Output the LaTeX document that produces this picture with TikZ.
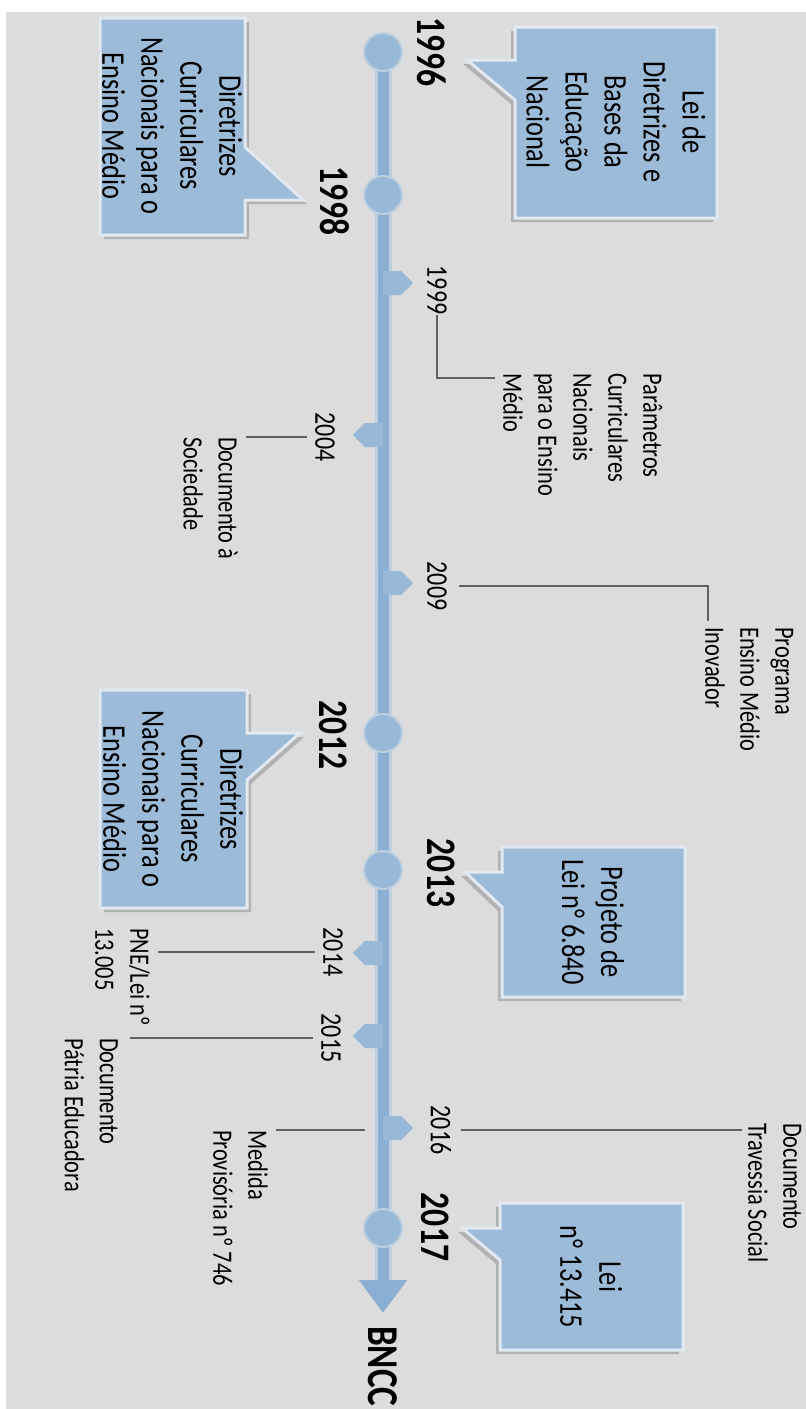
\documentclass[tikz,border=0pt]{standalone}
\usepackage{fontspec}
\setmainfont{Carlito}[FakeStretch=0.8]
\usetikzlibrary{arrows.meta,shapes.symbols,calc}

\definecolor{bgc}{RGB}{220,220,220}
\definecolor{barc}{RGB}{138,175,211}
\definecolor{barl}{RGB}{190,207,224}
\definecolor{dotc}{RGB}{152,184,215}
\definecolor{boxc}{RGB}{156,187,217}
\definecolor{boxl}{RGB}{226,233,240}
\definecolor{linec}{RGB}{95,95,95}

\begin{document}
\begin{tikzpicture}[
    x=1pt, y=-1pt,
    bigyear/.style={rotate=-90, inner sep=0pt, font=\fontsize{42}{42}\selectfont\bfseries},
    smallyear/.style={rotate=-90, inner sep=0pt, font=\fontsize{30}{30}\selectfont},
    boxtext/.style={rotate=-90, inner sep=0pt, align=center, font=\fontsize{33}{39}\selectfont},
    notetext/.style={rotate=-90, inner sep=0pt, align=left, font=\fontsize{28}{35}\selectfont},
    yeardot/.style={circle, fill=dotc, draw=barl, line width=2pt, minimum size=38pt, inner sep=0pt},
    tickmark/.style={signal, fill=dotc, minimum width=30pt, minimum height=24pt, inner sep=0pt},
    bubble/.style={fill=boxc, draw=boxl, line width=3pt,
        preaction={fill=black!30, transform canvas={xshift=#1, yshift=-4pt}}},
    bubble/.default=-4pt,
    leader/.style={draw=linec, line width=1.3pt}
]

    % page
    \useasboundingbox (0,0) rectangle (806,1409);
    \fill[white] (0,0) rectangle (806,1409);
    \fill[bgc] (6,12) rectangle (806,1409);

    % Timeline
    \node[rotate=-90, inner sep=0pt, anchor=west, font=\fontsize{44}{44}\selectfont\bfseries] (bncc) at (383,1326) {BNCC};
    \coordinate (start) at (383,52);
    \draw[barl, line width=17pt] (start) -- ([yshift=46pt]bncc.west);
    \draw[barc, line width=11pt, -{Triangle[width=46pt, length=33pt]}] (start) -- ([yshift=13pt]bncc.west);

    \node[tickmark, signal to=east, anchor=west] (m1999) at (383,283) {};
    \node[tickmark, signal to=west, anchor=east] (m2004) at (383,435) {};
    \node[tickmark, signal to=east, anchor=west] (m2009) at (383,583) {};
    \node[tickmark, signal to=west, anchor=east] (m2014) at (383,953) {};
    \node[tickmark, signal to=west, anchor=east] (m2015) at (383,1036) {};
    \node[tickmark, signal to=east, anchor=west] (m2016) at (383,1128) {};

    \node[yeardot] (c1996) at (383,52) {};
    \node[yeardot] (c1998) at (383,195) {};
    \node[yeardot] (c2012) at (383,733) {};
    \node[yeardot] (c2013) at (383,870) {};
    \node[yeardot] (c2017) at (383,1228) {};

    % Callouts
    \path[bubble] (515,27) -- (717,27) -- (717,218) -- (515,218) -- (515,100) -- (467,60) -- (515,60) -- cycle;
    \path[bubble=4pt] (100,18) -- (245,18) -- (245,147) -- (303,200) -- (245,200) -- (245,235) -- (100,235) -- cycle;
    \path[bubble=4pt] (100,690) -- (247,690) -- (247,733) -- (300,733) -- (247,780) -- (247,908) -- (100,908) -- cycle;
    \path[bubble] (502,847) -- (685,847) -- (685,997) -- (502,997) -- (502,907) -- (465,872) -- (502,872) -- cycle;
    \path[bubble] (500,1203) -- (683,1203) -- (683,1350) -- (500,1350) -- (500,1260) -- (462,1228) -- (500,1228) -- cycle;

    \node[boxtext] (t1996) at (616,122) {Lei de\\Diretrizes e\\Bases da\\Educação\\Nacional};
    \node[boxtext] (t1998) at (172,126) {Diretrizes\\Curriculares\\Nacionais para o\\Ensino Médio};
    \node[boxtext] (t2012) at (173,799) {Diretrizes\\Curriculares\\Nacionais para o\\Ensino Médio};
    \node[boxtext] (t2013) at (593,922) {Projeto de\\Lei n° 6.840};
    \node[boxtext] (t2017) at (591,1277) {Lei\\n° 13.415};

    % Years
    \node[bigyear] (y1996) at (432,52) {1996};
    \node[bigyear] (y1998) at (335,201) {1998};
    \node[bigyear] (y2012) at (333,735) {2012};
    \node[bigyear] (y2013) at (441,873) {2013};
    \node[bigyear] (y2017) at (435,1227) {2017};

    \node[smallyear] (y1999) at (437,290) {1999};
    \node[smallyear] (y2004) at (325,437) {2004};
    \node[smallyear] (y2009) at (437,586) {2009};
    \node[smallyear] (y2014) at (333,952) {2014};
    \node[smallyear] (y2015) at (331,1038) {2015};
    \node[smallyear] (y2016) at (441,1130) {2016};

    % Notes
    \node[notetext, anchor=south west] (n1999) at (503,373) {Parâmetros\\Curriculares\\Nacionais\\para o Ensino\\Médio};
    \node[notetext, anchor=north west] (n2004) at (238,437) {Documento à\\Sociedade};
    \node[notetext, anchor=south west] (n2009) at (705,627) {Programa\\Ensino Médio\\Inovador};
    \node[notetext, anchor=north west] (n2014) at (150,928) {PNE/Lei nº\\13.005};
    \node[notetext, anchor=north west] (n2015) at (118,1038) {Documento\\Pátria Educadora};
    \node[notetext, anchor=south west] (n2016a) at (748,1123) {Documento\\Travessia Social};
    \node[notetext, anchor=north west] (n2016b) at (268,1130) {Medida\\Provisória nº 746};

    % Leaders
    \coordinate (b2016) at (365,1130);
    \draw[leader] (y1999.east) |- ([xshift=-8pt, yshift=-5pt]n1999.south west);
    \draw[leader] ([xshift=-8pt]y2004.south) -- ([xshift=8pt]n2004.north west);
    \draw[leader] ([xshift=12pt]y2009.north) -| ([xshift=3pt, yshift=6pt]n2009.south west);
    \draw[leader] ([xshift=-8pt]y2014.south) -- ($(y2014.south -| n2014.north west)+(8,0)$);
    \draw[leader] ([xshift=-8pt]y2015.south) -- ([xshift=12pt]n2015.north west);
    \draw[leader] ([xshift=10pt]y2016.north) -- ($(y2016.north -| n2016a.south west)+(-6,0)$);
    \draw[leader] (b2016) -- ([xshift=8pt]n2016b.north west);

\end{tikzpicture}
\end{document}
